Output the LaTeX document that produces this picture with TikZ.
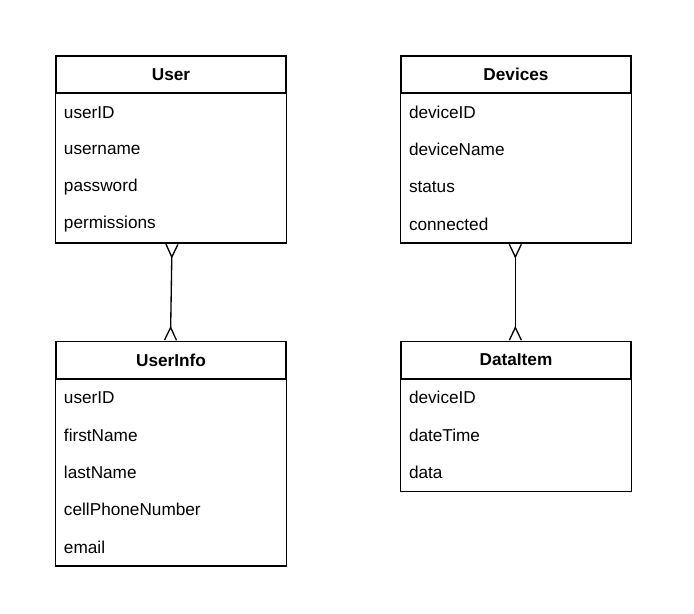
\documentclass[tikz,border=0pt]{standalone}
\usepackage{fontspec}
\setmainfont{Liberation Sans}
\usetikzlibrary{arrows.meta, positioning, fit}

\begin{document}
\begin{tikzpicture}[
    x=0.75pt, y=-0.75pt,
    font=\fontsize{12.9}{15}\selectfont,
    head/.style={rectangle, draw, line width=1pt, minimum width=172.5pt,
                 minimum height=27.75pt, inner sep=0pt, font=\fontsize{12.9}{15}\selectfont\bfseries},
    field/.style={rectangle, text width=160.5pt, inner xsep=6pt, inner ysep=0pt,
                  minimum height=27.6pt, align=left},
    frame/.style={rectangle, draw, line width=1pt, inner sep=0pt},
    many/.style={{Straight Barb[reversed, length=9.5pt, width=9pt]}-{Straight Barb[reversed, length=9.5pt, width=9pt]},
                 line width=1pt}
]
    \useasboundingbox (0,0) rectangle (694,614);

    % User table
    \node[head] (user) at (171,74.5) {User};
    \node[field, below=0pt of user] (user1) {userID};
    \node[field, below=0pt of user1] (user2) {username};
    \node[field, below=0pt of user2] (user3) {password};
    \node[field, below=0pt of user3] (user4) {permissions};
    \node[frame, fit=(user1)(user4)] (userbody) {};

    % Devices table
    \node[head] (devices) at (516,74.5) {Devices};
    \node[field, below=0pt of devices] (devices1) {deviceID};
    \node[field, below=0pt of devices1] (devices2) {deviceName};
    \node[field, below=0pt of devices2] (devices3) {status};
    \node[field, below=0pt of devices3] (devices4) {connected};
    \node[frame, fit=(devices1)(devices4)] (devicesbody) {};

    % UserInfo table
    \node[head] (userinfo) at (171,360) {UserInfo};
    \node[field, below=0pt of userinfo] (userinfo1) {userID};
    \node[field, below=0pt of userinfo1] (userinfo2) {firstName};
    \node[field, below=0pt of userinfo2] (userinfo3) {lastName};
    \node[field, below=0pt of userinfo3] (userinfo4) {cellPhoneNumber};
    \node[field, below=0pt of userinfo4] (userinfo5) {email};
    \node[frame, fit=(userinfo1)(userinfo5)] (userinfobody) {};

    % DataItem table
    \node[head] (dataitem) at (516,360) {DataItem};
    \node[field, below=0pt of dataitem] (dataitem1) {deviceID};
    \node[field, below=0pt of dataitem1] (dataitem2) {dateTime};
    \node[field, below=0pt of dataitem2] (dataitem3) {data};
    \node[frame, fit=(dataitem1)(dataitem3)] (dataitembody) {};

    % Relations
    \draw[many] ([xshift=0.75pt]userbody.south) -- ([xshift=-0.4pt]userinfo.north);
    \draw[many] ([xshift=-0.5pt]devicesbody.south) -- ([xshift=-0.5pt]dataitem.north);
\end{tikzpicture}
\end{document}
